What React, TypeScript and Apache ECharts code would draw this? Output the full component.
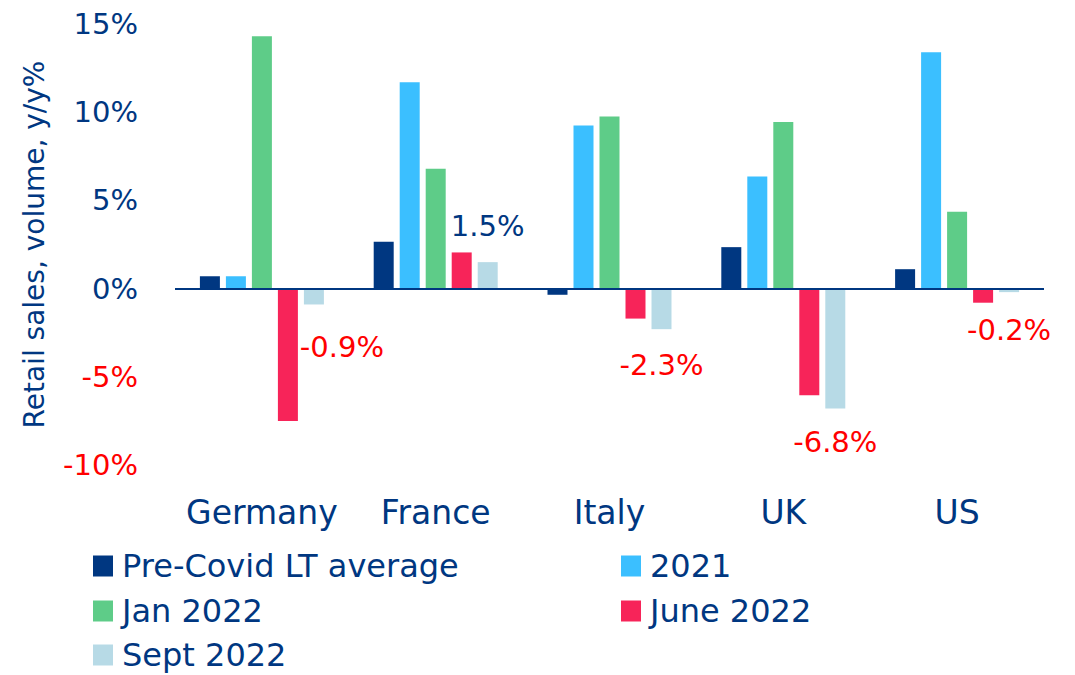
import React, { useEffect, useRef } from "react";
import * as echarts from "echarts";

const categories = ["Germany", "France", "Italy", "UK", "US"];
const seriesNames = ["Pre-Covid LT average", "2021", "Jan 2022", "June 2022", "Sept 2022"];
const preCovid = [0.7, 2.65, -0.35, 2.35, 1.1];
const y2021 = [0.7, 11.7, 9.25, 6.35, 13.4];
const jan2022 = [14.3, 6.8, 9.75, 9.45, 4.35];
const june2022 = [-7.5, 2.05, -1.7, -6.05, -0.8];
const sept2022 = [-0.9, 1.5, -2.3, -6.8, -0.2];
const yTicks = { min: -10, max: 15, interval: 5 };

const NAVY = "#003781";
const RED = "#ff0000";
const colors = ["#003781", "#3bbfff", "#5ecc88", "#f72459", "#b7dae6"];
const FONT = "DejaVu Sans";
const labelOffsets: [number, number][] = [
  [28, 23],
  [0, -17],
  [0, 16],
  [0, 14],
  [0, 18],
];
// legend layout: [left, top] per series
const legendPos: [number, number][] = [
  [93, 549],
  [621, 549],
  [93, 594],
  [621, 594],
  [93, 638],
];

export default function App() {
  const ref = useRef<HTMLDivElement>(null);
  useEffect(() => {
    if (!ref.current) return;
    const chart = echarts.init(ref.current, undefined, { renderer: "svg" });
    const values = [preCovid, y2021, jan2022, june2022, sept2022];
    const series: any[] = values.map((vals, si) => {
      const s: any = {
        name: seriesNames[si],
        type: "bar",
        barWidth: 20,
        barGap: "30%",
        itemStyle: { color: colors[si] },
        data:
          si === 4
            ? vals.map((v, i) => ({
                value: v,
                label: {
                  show: true,
                  position: v < 0 ? "bottom" : "top",
                  offset: labelOffsets[i],
                  color: v < 0 ? RED : NAVY,
                  fontFamily: FONT,
                  fontSize: 29,
                  formatter: (p: any) => `${Number(p.value).toFixed(1)}%`,
                },
              }))
            : vals,
      };
      if (si === 0) {
        s.markLine = {
          silent: true,
          symbol: ["none", "none"],
          label: { show: false },
          lineStyle: { color: NAVY, width: 2, type: "solid" },
          data: [{ yAxis: 0 }],
          z: 10,
        };
      }
      return s;
    });
    const legendText = {
      color: NAVY,
      fontFamily: FONT,
      fontSize: 32,
      lineHeight: 34,
      padding: [0, 0, 0, 4],
    };
    const legends = seriesNames.map((name, i) => ({
      data: [name],
      orient: "horizontal",
      left: legendPos[i][0],
      top: legendPos[i][1],
      padding: 0,
      itemWidth: 20,
      itemHeight: 21,
      icon: "rect",
      textStyle: legendText,
    }));
    chart.setOption({
      animation: false,
      grid: { left: 175, right: 31, top: 24, bottom: 210 },
      xAxis: {
        type: "category",
        data: categories,
        axisLine: { show: false },
        axisTick: { show: false },
        axisLabel: {
          interval: 0,
          color: NAVY,
          fontFamily: FONT,
          fontSize: 33,
          margin: 31,
        },
      },
      yAxis: {
        type: "value",
        min: yTicks.min,
        max: yTicks.max,
        interval: yTicks.interval,
        splitLine: { show: false },
        axisLine: { show: false },
        axisTick: { show: false },
        axisLabel: {
          margin: 37,
          fontFamily: FONT,
          fontSize: 29,
          formatter: (v: number) => `${v}%`,
          color: ((v: any) => (Number(v) < 0 ? RED : NAVY)) as any,
        },
        name: "Retail sales, volume, y/y%",
        nameLocation: "middle",
        nameRotate: 90,
        nameGap: 127,
        nameTextStyle: { color: NAVY, fontFamily: FONT, fontSize: 28 },
      },
      legend: legends,
      series,
    });
    return () => chart.dispose();
  }, []);
  return (
    <div
      ref={ref}
      style={{ position: "fixed", left: 0, top: 0, width: 1075, height: 675, background: "#fff" }}
    />
  );
}
